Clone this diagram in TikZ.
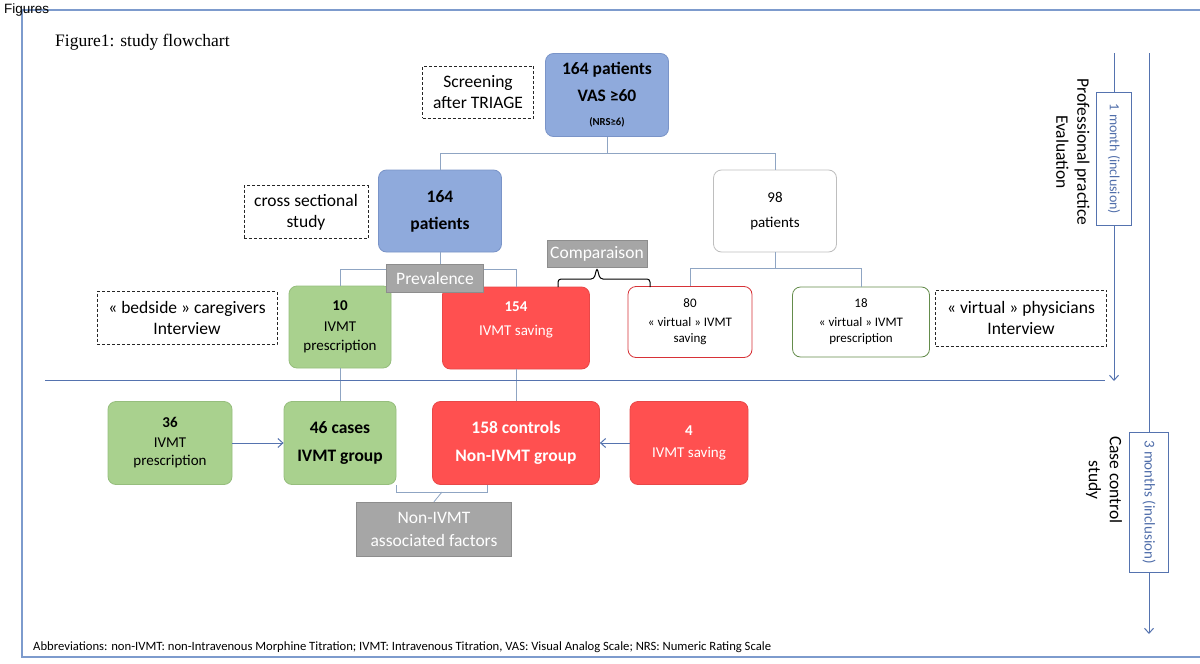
\documentclass[tikz,border=0pt]{standalone}
\usepackage{fontspec}
\setmainfont{Carlito}
\newfontfamily\serifT{Liberation Serif}
\newfontfamily\sansA{Liberation Sans}
\usetikzlibrary{arrows.meta}
\definecolor{bluebox}{RGB}{143,170,220}
\definecolor{blueedge}{RGB}{122,148,200}
\definecolor{greenbox}{RGB}{169,209,142}
\definecolor{greenedge}{RGB}{150,190,125}
\definecolor{redbox}{RGB}{255,80,80}
\definecolor{rededge}{RGB}{232,72,72}
\definecolor{grayl}{RGB}{166,166,166}
\definecolor{connc}{RGB}{143,165,195}
\definecolor{sepc}{RGB}{85,115,175}
\definecolor{framec}{RGB}{125,155,205}
\definecolor{virtred}{RGB}{215,50,55}
\definecolor{virtgreen}{RGB}{100,140,75}
\definecolor{lightedge}{RGB}{190,190,190}
\definecolor{monthc}{RGB}{80,110,170}
\begin{document}
\begin{tikzpicture}[x=1pt,y=-1pt,
  base/.style={rounded corners=8pt, align=center, inner sep=0pt, line width=0.8pt},
  bluebx/.style={base, fill=bluebox, draw=blueedge, text=black},
  greenbx/.style={base, fill=greenbox, draw=greenedge, text=black},
  redbx/.style={base, fill=redbox, draw=rededge, text=white},
  whitebx/.style={base, fill=white, text=black},
  dashbx/.style={draw=black!85, dash pattern=on 3pt off 2pt, line width=0.8pt, align=center, inner sep=0pt, font=\fontsize{17.5}{21}\selectfont},
  graylbl/.style={fill=grayl, draw=grayl!85!black, line width=0.5pt, text=white, align=center, inner sep=0pt, font=\fontsize{17.5}{23}\selectfont},
  conn/.style={draw=connc, line width=0.8pt},
  brace/.style={draw=black, line width=1pt, rounded corners=3pt},
  arr/.style={draw=sepc, line width=1pt, -{Straight Barb[length=5pt,width=9pt]}},
  monthbx/.style={draw=sepc, line width=1pt, fill=white, text=monthc, align=center, inner sep=0pt, rotate=-90},
  sidetxt/.style={align=center, rotate=-90, font=\fontsize{17.5}{21}\selectfont}
]
\useasboundingbox (0,0) rectangle (1200,664);
\fill[white] (0,0) rectangle (1200,664);

% frame
\coordinate (fa) at (22,10);
\coordinate (fb) at (1200,10);
\coordinate (fc) at (22,657);
\coordinate (fd) at (1200,657);
\draw[framec, line width=1.2pt] (fb) -- (fa) -- (fc) -- (fd);
\node[anchor=west, inner sep=0pt, font=\sansA\fontsize{13.5}{15}\selectfont] (figs) at (4,10) {Figures};
\node[anchor=west, inner sep=0pt, font=\serifT\fontsize{17.5}{20}\selectfont] (title) at (55,42) {Figure1: study flowchart};

% level 1
\node[bluebx, minimum width=123pt, minimum height=83pt, font=\fontsize{17.5}{21}\selectfont\bfseries] (top) at (607,95)
  {164 patients\\[6pt] VAS ≥60\\[3pt] {\fontsize{10.7}{12}\selectfont (NRS≥6)}};
\node[dashbx, minimum width=111pt, minimum height=52pt] (scr) at (478,92) {Screening\\after TRIAGE};

% level 2
\node[bluebx, minimum width=123pt, minimum height=82pt, font=\fontsize{17.5}{21}\selectfont\bfseries] (p164) at (440,211) {164\\[6pt] patients};
\node[dashbx, minimum width=124pt, minimum height=53pt] (cross) at (306,212) {cross sectional\\study};
\node[whitebx, draw=lightedge, minimum width=123pt, minimum height=82pt, font=\fontsize{15}{18}\selectfont] (p98) at (775,211) {98\\[7pt] patients};

% level 3
\node[greenbx, minimum width=102pt, minimum height=82pt, font=\fontsize{15}{19}\selectfont] (g10) at (340,327) {\textbf{10}\\[2pt] IVMT\\ prescription};
\node[redbx, minimum width=147pt, minimum height=82pt, font=\fontsize{15}{19}\selectfont] (r154) at (516,328) {\textbf{154}\\[5pt] IVMT saving\\ ~};
\node[whitebx, draw=virtred, minimum width=124pt, minimum height=71pt, font=\fontsize{13}{16}\selectfont] (v80) at (690,322) {80\\[3pt] « virtual » IVMT\\ saving};
\node[whitebx, draw=virtgreen, minimum width=137pt, minimum height=70pt, font=\fontsize{13}{16}\selectfont] (v18) at (861,322) {18\\[3pt] « virtual » IVMT\\ prescription};
\node[dashbx, minimum width=180pt, minimum height=53pt] (bed) at (187,318) {« bedside » caregivers\\Interview};
\node[dashbx, minimum width=171pt, minimum height=56pt] (virt) at (1021,318) {« virtual » physicians\\Interview};

% bottom row
\node[greenbx, minimum width=124pt, minimum height=83pt, font=\fontsize{15}{18}\selectfont] (b36) at (170,443) {\textbf{36}\\[2pt] IVMT\\ prescription};
\node[greenbx, minimum width=112pt, minimum height=83pt, font=\fontsize{17.5}{21}\selectfont\bfseries] (c46) at (340,443) {46 cases\\[7pt] IVMT group};
\node[redbx, minimum width=167pt, minimum height=83pt, font=\fontsize{17.5}{21}\selectfont\bfseries] (c158) at (516,443) {158 controls\\[7pt] Non-IVMT group};
\node[redbx, minimum width=118pt, minimum height=83pt, font=\fontsize{15}{18}\selectfont] (b4) at (689,443) {\textbf{4}\\[4pt] IVMT saving};

% connectors
\coordinate (h1) at (607,153);
\coordinate (h2) at (440,269);
\coordinate (h3) at (775,268);
\draw[conn] (top.south) -- (h1);
\draw[conn] (h1) -| (p164.north);
\draw[conn] (h1) -| (p98.north);
\draw[conn] (p164.south) -- (h2);
\draw[conn] (h2) -| (g10.north);
\draw[conn] (h2) -| (r154.north);
\draw[conn] (p98.south) -- (h3);
\draw[conn] (h3) -| (v80.north);
\draw[conn] (h3) -| (v18.north);
\draw[conn] (g10.south) -- (c46.north);
\draw[conn] (r154.south) -- (c158.north);

% separator
\coordinate (s1) at (45,380);
\coordinate (s2) at (1105,380);
\draw[sepc, line width=1pt] (s1) -- (s2);

% labels
\node[graylbl, minimum width=97pt, minimum height=28pt] (prev) at (435,278) {Prevalence};
\node[graylbl, minimum width=100pt, minimum height=27pt] (comp) at (597,254) {Comparaison};
\node[graylbl, minimum width=155pt, minimum height=54pt] (nonf) at (434,529) {Non-IVMT\\associated factors};

% comparaison brace
\coordinate (ba) at (558,287);
\coordinate (bb) at (650,287);
\draw[brace] (ba) -- (558,279) -- (594,279) -- (comp.south) -- (600,279) -- (650,279) -- (bb);

% bottom bracket
\coordinate (ka) at (396,485);
\coordinate (kb) at (487,485);
\coordinate (km) at (442,492);
\draw[conn] (ka) -- (396,492) -- (487,492) -- (kb);
\draw[conn] (km) -- (nonf.north);

% arrows into groups
\draw[arr] (b36.east) -- (c46.west);
\draw[arr] (b4.west) -- (c158.east);

% right side timeline
\coordinate (t1) at (1114,53);
\coordinate (e1) at (1114,381);
\node[monthbx, minimum width=133pt, minimum height=35pt, font=\fontsize{14}{17}\selectfont] (m1) at (1114,159) {1 month (inclusion)};
\draw[sepc, line width=1pt] (t1) -- (m1.west);
\draw[arr] (m1.east) -- (e1);
\node[sidetxt] (ppe) at (1073,152) {Professional practice\\Evaluation};

\coordinate (t2) at (1149,53);
\coordinate (e2) at (1149,634);
\node[monthbx, minimum width=140pt, minimum height=39pt, font=\fontsize{15}{18}\selectfont] (m3) at (1149,502) {3 months (inclusion)};
\draw[sepc, line width=1pt] (t2) -- (m3.west);
\draw[arr] (m3.east) -- (e2);
\node[sidetxt] (ccs) at (1104,480) {Case control\\study};

% abbreviations
\node[anchor=west, inner sep=0pt, font=\fontsize{12.65}{15}\selectfont] (abbr) at (33,647) {Abbreviations: non-IVMT: non-Intravenous Morphine Titration; IVMT: Intravenous Titration, VAS: Visual Analog Scale; NRS: Numeric Rating Scale};
\end{tikzpicture}
\end{document}
